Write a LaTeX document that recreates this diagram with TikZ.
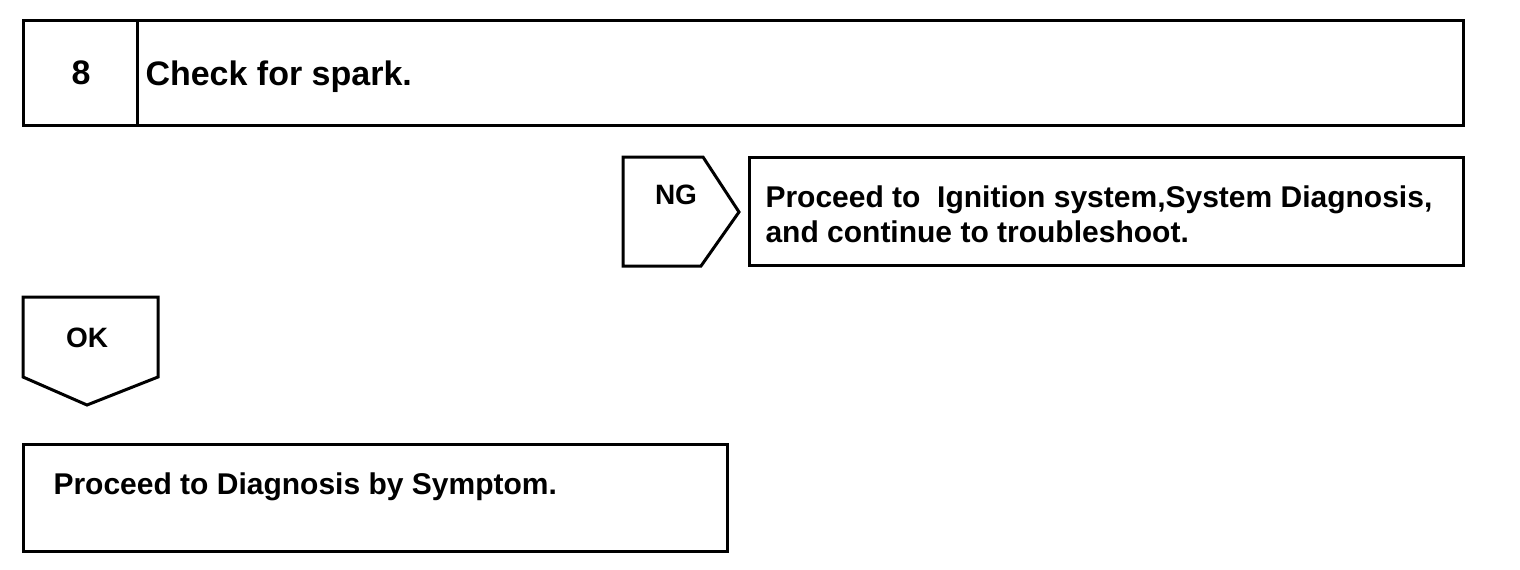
\documentclass[tikz,border=0pt]{standalone}
\usepackage{fontspec}
\setmainfont{Liberation Sans}
\begin{document}
\begin{tikzpicture}[x=1pt,y=-1pt, line width=3pt, line join=miter,
  txt/.style={inner sep=0pt, font=\fontsize{30}{35}\selectfont\bfseries},
  big/.style={inner sep=0pt, font=\fontsize{34}{36}\selectfont\bfseries},
  tag/.style={inner sep=0pt, font=\fontsize{28}{30}\selectfont\bfseries}]
\useasboundingbox (0,0) rectangle (1520,570);
% step box
\draw (23,20) rectangle (1463,125);
\draw (137,20) -- (137,125);
\node[big, anchor=base] (num) at (81,84) {8};
\node[big, anchor=base west] (check) at (144,85) {Check for spark.};
% NG tag
\draw (623,157) -- (703,157) -- (739,212) -- (701,266) -- (623,266) -- cycle;
\node[tag] (ng) at (676,195) {NG};
% NG box
\draw (749,157) rectangle (1463,265);
\node[txt, anchor=base west, align=left] (ngtext) at (764,242) {Proceed to\ \ Ignition system,System Diagnosis,\\and continue to troubleshoot.};
% OK tag
\draw (23,297) -- (158,297) -- (158,377) -- (87,405) -- (23,377) -- cycle;
\node[tag] (ok) at (87,338) {OK};
% OK box
\draw (23,444) rectangle (727,551);
\node[txt, anchor=base west] (oktext) at (52,494) {Proceed to Diagnosis by Symptom.};
\end{tikzpicture}
\end{document}
